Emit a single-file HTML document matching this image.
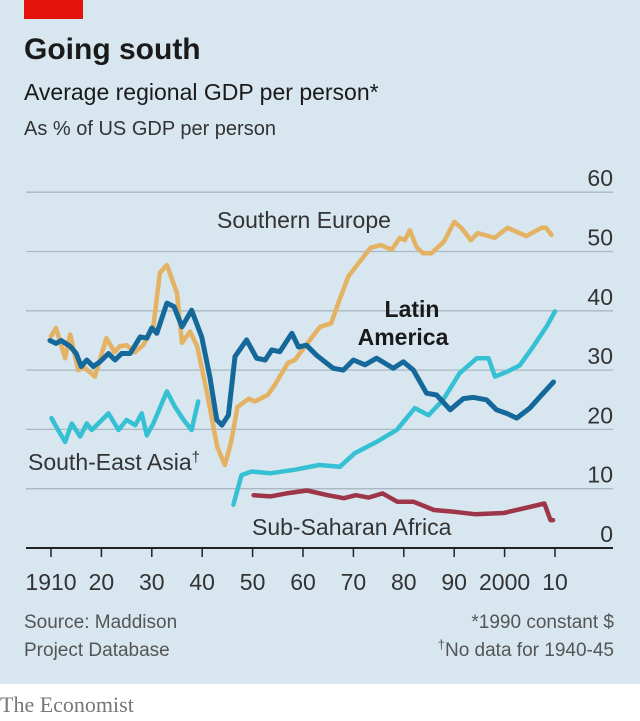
<!DOCTYPE html>
<html><head><meta charset="utf-8"><style>
html,body{margin:0;padding:0;background:#fff;}
#wrap{position:relative;width:640px;height:721px;overflow:hidden;font-family:"Liberation Sans Narrow","Liberation Sans",sans-serif;}
</style></head><body>
<div id="wrap">
<svg id="chart" width="640" height="721" viewBox="0 0 640 721" xmlns="http://www.w3.org/2000/svg">
<rect x="0" y="0" width="640" height="684" fill="#d7e6ef"/>
<rect x="24" y="0" width="59" height="19" fill="#e3120b"/>
<text x="24" y="59" font-family="Liberation Sans, sans-serif" font-weight="bold" font-size="30" fill="#1a1a1a">Going south</text>
<text x="24" y="100" font-family="Liberation Sans, sans-serif" font-size="23" fill="#1a1a1a">Average regional GDP per person*</text>
<text x="24" y="135" font-family="Liberation Sans, sans-serif" font-size="20" fill="#333">As % of US GDP per person</text>
<g id="grid"></g>
<g id="series"></g>
<text x="217" y="228" font-size="23" fill="#333">Southern Europe</text>
<text x="412" y="317" font-size="23" font-weight="bold" fill="#1a1a1a" text-anchor="middle"><tspan x="412">Latin</tspan><tspan x="403" dy="28">America</tspan></text>
<text x="28" y="470" font-size="23" fill="#333">South-East Asia<tspan dy="-8" font-size="15">†</tspan></text>
<text x="252" y="535" font-size="23" fill="#333">Sub-Saharan Africa</text>
<text x="24" y="628" font-size="19" fill="#555"><tspan x="24">Source: Maddison</tspan><tspan x="24" dy="28">Project Database</tspan></text>
<text x="614" y="628" font-size="19" fill="#555" text-anchor="end">*1990 constant $</text>
<text x="614" y="656" font-size="19" fill="#555" text-anchor="end"><tspan font-size="13" dy="-7">†</tspan><tspan dy="7">No data for 1940-45</tspan></text>
<text x="0" y="712" font-family="Liberation Serif, serif" font-size="22" fill="#777">The Economist</text>
</svg>
</div>
<script>
const yTicks=[0,10,20,30,40,50,60];
const xTicks=[1910,1920,1930,1940,1950,1960,1970,1980,1990,2000,2010];
const xTickLabels=["1910","20","30","40","50","60","70","80","90","2000","10"];
const seYears=[1910,1911,1912.8,1913.8,1915.4,1916.5,1918.7,1921,1922.6,1923.6,1925,1926.6,1928.3,1930.3,1931.6,1933,1935,1936,1937.6,1939,1941,1943,1944.5,1945.7,1947,1949.3,1950.4,1953,1954.4,1957,1958.4,1960.4,1963.4,1965.6,1967,1969,1971,1973.4,1975.4,1977.6,1979.2,1980.2,1981.2,1982.5,1983.8,1985.5,1988,1990,1991.4,1993.3,1994.7,1998,2000.6,2004.3,2007.3,2008.2,2009.3];
const seValues=[35.7,37.1,32,36,30,30.5,28.9,35.4,33,34,34.2,33,34.2,37.3,46.4,47.7,43,34.6,36.5,34,26,17,14,17.7,23.8,25.2,24.7,25.8,27.5,31.2,31.7,34,37.3,37.9,41.3,45.8,48,50.6,51.1,50.3,52.3,51.9,53.6,50.8,49.7,49.7,51.7,55,54,51.9,53.1,52.3,54,52.6,54,54,52.8];
const laYears=[1909.8,1911,1912,1913.8,1915,1916,1917.1,1918.4,1919.7,1921.4,1922.7,1924,1925.7,1927.7,1929,1930,1931,1933,1934.4,1936,1937.9,1939.9,1941.5,1942.9,1943.9,1945.2,1946.5,1948.8,1950.8,1952.5,1953.8,1955.4,1957.8,1959.1,1960.7,1962.7,1966,1968,1970,1972.3,1974.6,1977.9,1979.9,1981.9,1984.5,1986.5,1989.2,1991.8,1993.8,1996.4,1998.4,2000.4,2002.4,2005,2007,2009.7];
const laValues=[35,34.5,35,34,32.8,30.6,31.7,30.6,31.4,32.8,31.7,32.8,32.8,35.6,35.4,37.1,36.2,41.3,40.7,37.3,40.1,35.6,28.9,21.6,20.7,22.4,32.3,35.1,32,31.7,33.4,33.1,36.2,33.9,34.2,32.5,30.3,30,31.7,30.9,32,30.3,31.4,30,26.1,25.8,23.3,25.2,25.4,25,23.3,22.7,21.9,23.6,25.5,28];
const seaYears1=[1910.1,1911.4,1912.8,1914.1,1915.8,1917.1,1918.1,1921.4,1923.4,1925,1926.7,1928,1929,1930.3,1933,1934.6,1936.3,1937.9,1939.2];
const seaValues1=[21.9,19.9,17.9,21,18.8,21,19.9,22.7,19.9,21.6,20.7,22.7,19,21,26.4,23.8,21.6,19.9,24.7];
const seaYears2=[1946.2,1947.8,1949.8,1953.5,1958.4,1963.2,1967.3,1970.3,1974.6,1978.6,1982.2,1984.9,1987.8,1991.1,1994.5,1996.8,1998.1,2000.4,2003,2005.7,2008.3,2010];
const seaValues2=[7.3,12.3,12.9,12.6,13.2,14,13.7,16,17.9,19.9,23.6,22.4,25,29.5,32,32,28.9,29.7,30.8,34,37.3,39.9];
const ssaYears=[1950.2,1953.5,1956.7,1960.8,1964.9,1968.1,1970.5,1973,1975.8,1978.7,1981.9,1986,1990,1994.1,1999.8,2005.4,2007.9,2009.1,2009.6];
const ssaValues=[8.9,8.7,9.2,9.7,8.9,8.4,8.9,8.5,9.2,7.8,7.8,6.4,6.1,5.7,5.9,7,7.5,4.7,4.7];

const NS="http://www.w3.org/2000/svg";
function xScale(yr){return 51+(yr-1910)*5.04;}
function yScale(v){return 548-v*5.93;}
const grid=document.getElementById('grid');
const series=document.getElementById('series');
yTicks.forEach(function(t){
  if(t>0){
    const l=document.createElementNS(NS,'line');
    l.setAttribute('x1',26);l.setAttribute('x2',613);
    l.setAttribute('y1',yScale(t));l.setAttribute('y2',yScale(t));
    l.setAttribute('stroke','#a9b8c2');l.setAttribute('stroke-width','1.3');
    
    
    grid.appendChild(l);
  }
  const tx=document.createElementNS(NS,'text');
  tx.setAttribute('x',613);tx.setAttribute('y',yScale(t)-6);
  tx.setAttribute('text-anchor','end');tx.setAttribute('font-size','23');tx.setAttribute('fill','#333');
  tx.textContent=String(t);
  
  
  grid.appendChild(tx);
});
const ax=document.createElementNS(NS,'line');
ax.setAttribute('x1',26);ax.setAttribute('x2',613);ax.setAttribute('y1',548);ax.setAttribute('y2',548);
ax.setAttribute('stroke','#222');ax.setAttribute('stroke-width','2');


grid.appendChild(ax);
xTicks.forEach(function(t,i){
  const k=document.createElementNS(NS,'line');
  k.setAttribute('x1',xScale(t));k.setAttribute('x2',xScale(t));k.setAttribute('y1',548);k.setAttribute('y2',557);
  k.setAttribute('stroke','#222');k.setAttribute('stroke-width','1.5');
  
  
  grid.appendChild(k);
  const tx=document.createElementNS(NS,'text');
  tx.setAttribute('x',xScale(t));tx.setAttribute('y',590);
  tx.setAttribute('text-anchor','middle');tx.setAttribute('font-size','23');tx.setAttribute('fill','#333');
  tx.textContent=xTickLabels[i];
  
  
  grid.appendChild(tx);
});
function drawLine(years,vals,color,width,name){
  const p=document.createElementNS(NS,'polyline');
  p.setAttribute('points',years.map(function(y,i){return xScale(y).toFixed(1)+','+yScale(vals[i]).toFixed(1);}).join(' '));
  p.setAttribute('fill','none');p.setAttribute('stroke',color);p.setAttribute('stroke-width',width);
  p.setAttribute('stroke-linejoin','round');p.setAttribute('stroke-linecap','round');
  
  
  series.appendChild(p);
}
drawLine(seaYears1,seaValues1,'#36c0d3',4.5,'line-south-east-asia-prewar');
drawLine(seaYears2,seaValues2,'#36c0d3',4.5,'line-south-east-asia-postwar');
drawLine(ssaYears,ssaValues,'#9e3548',4.5,'line-sub-saharan-africa');
drawLine(seYears,seValues,'#e4b263',4.5,'line-southern-europe');
drawLine(laYears,laValues,'#15689a',5,'line-latin-america');
</script>
</body></html>
